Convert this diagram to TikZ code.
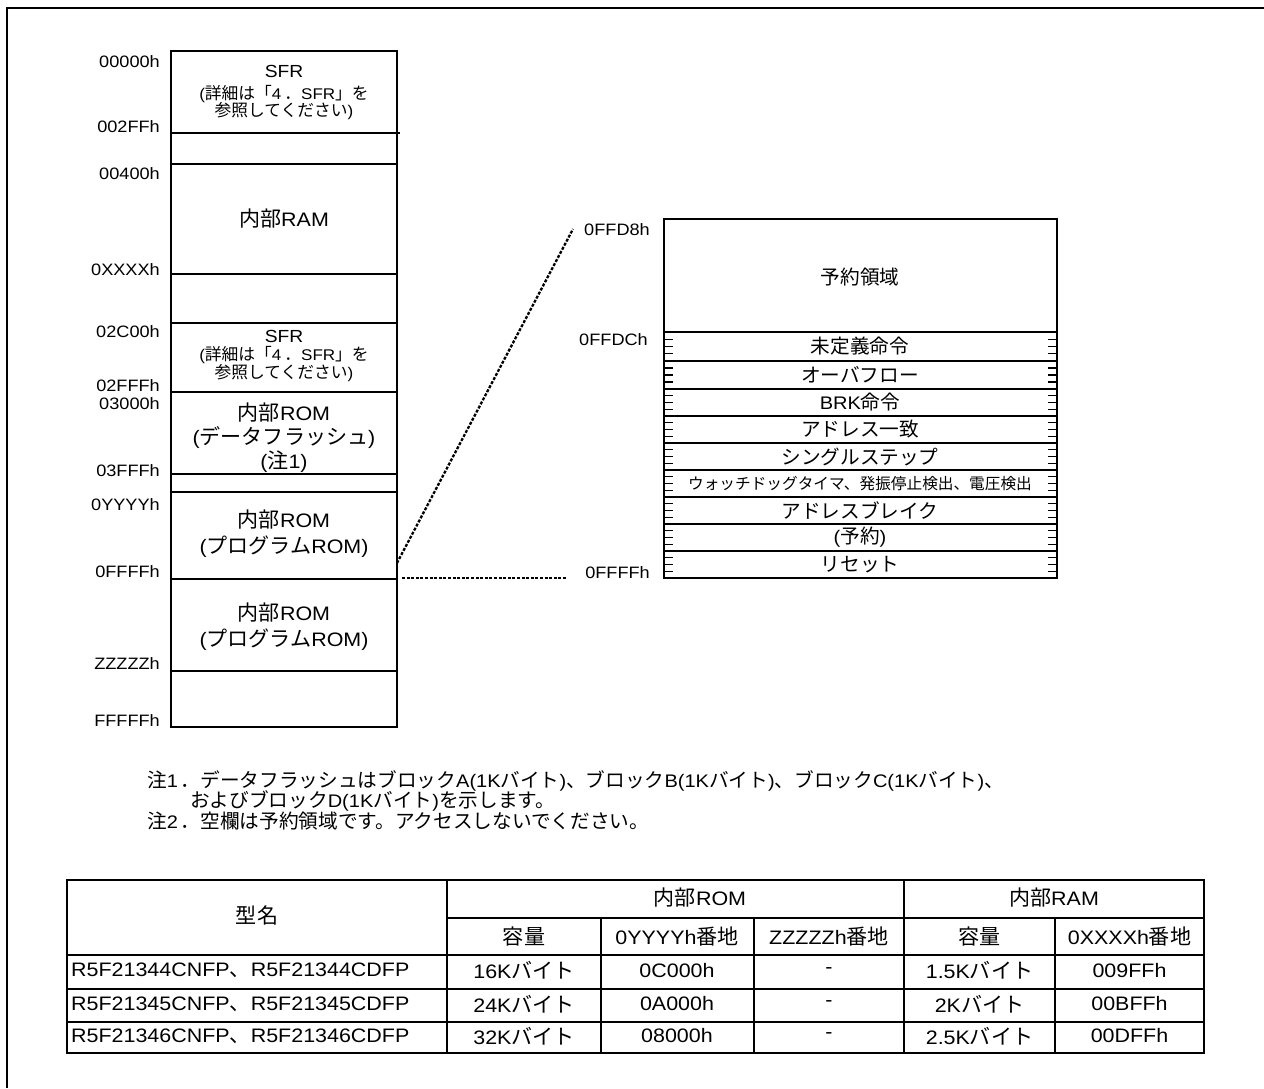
\documentclass[tikz,border=0pt]{standalone}
\usepackage{fontspec}
\setmainfont[FakeStretch=1.1]{Liberation Sans}
\newfontfamily\jpf[Scale=1.08]{Noto Sans CJK JP}
\newcommand\J[1]{{\jpf #1}}
\tikzset{
  lab/.style={anchor=east, inner sep=0pt, font=\fontsize{16.5}{18}\selectfont},
  sfrt/.style={inner sep=0pt, font=\fontsize{17.5}{19}\selectfont},
  bigt/.style={inner sep=0pt, font=\fontsize{19.5}{22}\selectfont},
  smallt/.style={inner sep=0pt, font=\fontsize{15.5}{18}\selectfont},
  rowt/.style={inner sep=0pt, font=\fontsize{18.2}{20}\selectfont},
  tinyt/.style={inner sep=0pt, font=\fontsize{14.5}{17}\selectfont},
  notet/.style={anchor=west, inner sep=0pt, font=\fontsize{18.2}{20}\selectfont},
  tabt/.style={inner sep=0pt, font=\fontsize{19.5}{22}\selectfont},
  memline/.style={line width=1.9pt},
  rowline/.style={line width=1.5pt},
  tick/.style={line width=1.3pt},
  zoomline/.style={line width=2.3pt, dash pattern=on 3pt off 1.6pt},
  tabthick/.style={line width=2.6pt},
  tabthin/.style={line width=1.3pt},
}
\begin{document}
\begin{tikzpicture}[x=1pt,y=-1pt]
\useasboundingbox (0,0) rectangle (1264,1088);
% outer frame (top and left edges)
\draw[line width=2.3pt] (7,1088) -- (7,8) -- (1264,8);

% ---------------- left memory map ----------------
\draw[memline] (171,51) rectangle (397,727);
\draw[memline] (171,133) -- (400,133);
\foreach \y in {164,274,323,392,474,492,579,671}
  \draw[memline] (171,\y) -- (397,\y);

\node[lab] (l1)  at (160,62)  {00000h};
\node[lab] (l2)  at (160,127) {002FFh};
\node[lab] (l3)  at (160,174) {00400h};
\node[lab] (l4)  at (160,270) {0XXXXh};
\node[lab] (l5)  at (160,332) {02C00h};
\node[lab] (l6)  at (160,386) {02FFFh};
\node[lab] (l7)  at (160,404) {03000h};
\node[lab] (l8)  at (160,471) {03FFFh};
\node[lab] (l9)  at (160,505) {0YYYYh};
\node[lab] (l10) at (160,572) {0FFFFh};
\node[lab] (l11) at (160,664) {ZZZZZh};
\node[lab] (l12) at (160,721) {FFFFFh};

\node[sfrt]   (sfrA)  at (284,71)  {SFR};
\node[smallt] (sfrA1) at (284,94)  {(\J{詳細は「}4\hspace{3pt}\J{．}SFR\J{」を}};
\node[smallt] (sfrA2) at (284,111) {\J{参照してください})};
\node[bigt]   (ram)   at (284,219) {\J{内部}RAM};
\node[sfrt]   (sfrB)  at (284,336) {SFR};
\node[smallt] (sfrB1) at (284,355) {(\J{詳細は「}4\hspace{3pt}\J{．}SFR\J{」を}};
\node[smallt] (sfrB2) at (284,373) {\J{参照してください})};
\node[bigt]   (df1)   at (284,413) {\J{内部}ROM};
\node[bigt]   (df2)   at (284,438) {(\J{データフラッシュ})};
\node[bigt]   (df3)   at (284,462) {(\J{注}1)};
\node[bigt]   (pa1)   at (284,520) {\J{内部}ROM};
\node[bigt]   (pa2)   at (284,547) {(\J{プログラム}ROM)};
\node[bigt]   (pb1)   at (284,613) {\J{内部}ROM};
\node[bigt]   (pb2)   at (284,640) {(\J{プログラム}ROM)};

% ---------------- zoom connectors ----------------
\coordinate (zA) at (397,563);
\coordinate (zB) at (573,229);
\coordinate (zC) at (402,578);
\coordinate (zD) at (567,578);
\draw[zoomline] (zA) -- (zB);
\draw[zoomline] (zC) -- (zD);

% ---------------- right vector table ----------------
\draw[memline] (664,219) rectangle (1057,578);
\draw[memline] (664,332) -- (1057,332);
\foreach \y in {361,389,416,443,470,497,524,551}
  \draw[rowline] (664,\y) -- (1057,\y);
\foreach \a/\b in {332/361,361/389,389/416,416/443,443/470,470/497,497/524,524/551,551/578}{
  \foreach \k in {1,2,3}{
    \draw[tick] (664,{\a+\k*(\b-\a)/4}) -- ++(9,0);
    \draw[tick] (1057,{\a+\k*(\b-\a)/4}) -- ++(-9,0);
  }
}
\node[lab] (r0) at (650,230) {0FFD8h};
\node[lab] (r1) at (648,340) {0FFDCh};
\node[lab] (r2) at (650,573) {0FFFFh};

\node[rowt]  (v0) at (860,277)   {\J{予約領域}};
\node[rowt]  (v1) at (860,346.5) {\J{未定義命令}};
\node[rowt]  (v2) at (860,375)   {\J{オーバフロー}};
\node[rowt]  (v3) at (860,402.5) {BRK\J{命令}};
\node[rowt]  (v4) at (860,429.5) {\J{アドレス一致}};
\node[rowt]  (v5) at (860,456.5) {\J{シングルステップ}};
\node[tinyt] (v6) at (860,483.5) {\J{ウォッチドッグタイマ、発振停止検出、電圧検出}};
\node[rowt]  (v7) at (860,510.5) {\J{アドレスブレイク}};
\node[rowt]  (v8) at (860,537.5) {(\J{予約})};
\node[rowt]  (v9) at (860,564.5) {\J{リセット}};

% ---------------- notes ----------------
\node[notet] (n1) at (147,781) {\J{注}1\hspace{3pt}\J{．データフラッシュはブロック}A(1K\J{バイト})\J{、ブロック}B(1K\J{バイト})\J{、ブロック}C(1K\J{バイト})\J{、}};
\node[notet] (n2) at (190,801) {\J{およびブロック}D(1K\J{バイト})\J{を示します。}};
\node[notet] (n3) at (147,821) {\J{注}2\hspace{3pt}\J{．空欄は予約領域です。アクセスしないでください。}};

% ---------------- table ----------------
\draw[tabthin] (447,918) -- (1204,918);
\draw[tabthin] (67,989) -- (1204,989);
\draw[tabthin] (67,1022) -- (1204,1022);
\draw[tabthin] (447,880) -- (447,1053);
\draw[tabthin] (904,880) -- (904,1053);
\foreach \x in {601,754,1055}
  \draw[tabthin] (\x,918) -- (\x,1053);
\draw[tabthick] (67,955) -- (1204,955);
\draw[tabthick] (67,880) rectangle (1204,1053);

\node[tabt] (h0) at (257,915) {\J{型名}};
\node[tabt] (h1) at (700,898) {\J{内部}ROM};
\node[tabt] (h2) at (1054,898) {\J{内部}RAM};
\node[tabt] (h3) at (524,936) {\J{容量}};
\node[tabt] (h4) at (677,936) {0YYYYh\J{番地}};
\node[tabt] (h5) at (829,936) {ZZZZZh\J{番地}};
\node[tabt] (h6) at (979.5,936) {\J{容量}};
\node[tabt] (h7) at (1129.5,936) {0XXXXh\J{番地}};

\node[tabt,anchor=west] (a0) at (71,970.5) {R5F21344CNFP\J{、}R5F21344CDFP};
\node[tabt] (a1) at (524,970.5) {16K\J{バイト}};
\node[tabt] (a2) at (677,970.5) {0C000h};
\node[tabt] (a3) at (829,970.5) {-};
\node[tabt] (a4) at (979.5,970.5) {1.5K\J{バイト}};
\node[tabt] (a5) at (1129.5,970.5) {009FFh};

\node[tabt,anchor=west] (b0) at (71,1004) {R5F21345CNFP\J{、}R5F21345CDFP};
\node[tabt] (b1) at (524,1004) {24K\J{バイト}};
\node[tabt] (b2) at (677,1004) {0A000h};
\node[tabt] (b3) at (829,1004) {-};
\node[tabt] (b4) at (979.5,1004) {2K\J{バイト}};
\node[tabt] (b5) at (1129.5,1004) {00BFFh};

\node[tabt,anchor=west] (c0) at (71,1036) {R5F21346CNFP\J{、}R5F21346CDFP};
\node[tabt] (c1) at (524,1036) {32K\J{バイト}};
\node[tabt] (c2) at (677,1036) {08000h};
\node[tabt] (c3) at (829,1036) {-};
\node[tabt] (c4) at (979.5,1036) {2.5K\J{バイト}};
\node[tabt] (c5) at (1129.5,1036) {00DFFh};
\end{tikzpicture}
\end{document}
